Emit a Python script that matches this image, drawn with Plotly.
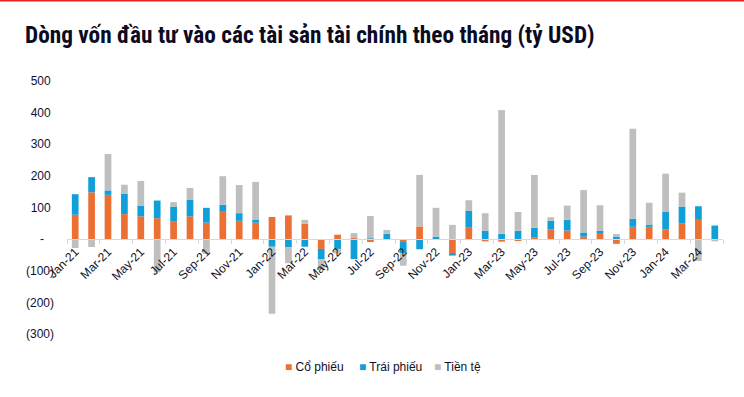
import plotly.graph_objects as go

months = ["Jan-21", "Feb-21", "Mar-21", "Apr-21", "May-21", "Jun-21", "Jul-21", "Aug-21", "Sep-21", "Oct-21", "Nov-21", "Dec-21",
          "Jan-22", "Feb-22", "Mar-22", "Apr-22", "May-22", "Jun-22", "Jul-22", "Aug-22", "Sep-22", "Oct-22", "Nov-22", "Dec-22",
          "Jan-23", "Feb-23", "Mar-23", "Apr-23", "May-23", "Jun-23", "Jul-23", "Aug-23", "Sep-23", "Oct-23", "Nov-23", "Dec-23",
          "Jan-24", "Feb-24", "Mar-24", "Apr-24"]

co_phieu = [77, 148, 140, 79, 72, 66, 57, 72, 52, 89, 58, 52,
            70, 75, 49, -31, 14, 3, -9, 0, -9, 40, 0, -44,
            36, -7, -8, -3, 6, 31, 27, 8, 20, -15, 39, 39,
            31, 49, 61, 0]

trai_phieu = [65, 48, 14, 64, 33, 56, 46, 53, 47, 20, 24, 10,
              -24, -26, -24, -33, -31, -63, 2, 17, -36, -32, 7, -8,
              53, 26, 17, 26, 30, 27, 34, 13, 6, 8, 25, 7,
              56, 54, 43, 43]

tien_te = [-28, -25, 115, 29, 79, -105, 14, 37, -47, 90, 89, 119,
           -212, -50, 12, -32, -15, 16, 71, 12, -39, 163, 92, 45,
           34, 56, 391, 60, 167, 11, 45, 134, 81, 8, 285, 69,
           120, 44, -69, -7]

series_names = ["Cổ phiếu", "Trái phiếu", "Tiền tệ"]
colors = ["#EC7033", "#109FD8", "#BFBFBF"]

y_tickvals = [500, 400, 300, 200, 100, 0, -100, -200, -300]
y_ticktext = ["500\u00a0", "400\u00a0", "300\u00a0", "200\u00a0", "100\u00a0", "-\u00a0\u00a0\u00a0",
              "(100)", "(200)", "(300)"]

title_text = "Dòng vốn đầu tư vào các tài sản tài chính theo tháng (tỷ USD)"

fig = go.Figure()
for name, vals, col in zip(series_names, [co_phieu, trai_phieu, tien_te], colors):
    fig.add_trace(go.Bar(x=months, y=vals, name=name, marker=dict(color=col, line=dict(width=0)),
                         showlegend=False))
legend_ids = ["legend", "legend2", "legend3"]
for name, col, lid in zip(series_names, colors, legend_ids):
    fig.add_trace(go.Scatter(x=[None], y=[None], mode="markers",
                             name=f"<span style='color:{col}'>■</span> {name}",
                             marker=dict(color="rgba(0,0,0,0)", size=1),
                             showlegend=True, legend=lid))

W, H = 744, 397
L, R, T, B = 67, 21, 81, 63
PW, PH = W - L - R, H - T - B

def px_to_paper_x(px):
    return (px - L) / PW

def px_to_paper_y(py):
    return (H - B - py) / PH

legend_common = dict(orientation="h", yanchor="middle", xanchor="left",
                     font=dict(size=12, color="#111122"), bgcolor="rgba(0,0,0,0)")

fig.update_layout(
    width=W, height=H,
    margin=dict(l=L, r=R, t=T, b=B),
    paper_bgcolor="white", plot_bgcolor="white",
    barmode="relative", bargap=0.59,
    font=dict(family="Liberation Sans, Arial, sans-serif", size=12, color="#111122"),
    title=dict(text=f"<span style='font-stretch:75%'><b>{title_text}</b></span>",
               x=25 / W, xanchor="left", xref="container",
               y=1 - 35 / H, yanchor="middle", yref="container",
               font=dict(family="Roboto, Liberation Sans, sans-serif", size=23.3, color="#0b0b22")),
    xaxis=dict(type="category", categoryorder="array", categoryarray=months,
               range=[-0.5, 39.5], anchor="free", position=300 / 800,
               tickmode="linear", tick0=0, dtick=2, tickson="boundaries",
               ticks="outside", ticklen=4, tickcolor="#D9D9D9", tickwidth=1,
               showline=True, linecolor="#D9D9D9", linewidth=1,
               showgrid=False, zeroline=False, tickangle=-45,
               tickfont=dict(size=12, color="#111122")),
    yaxis=dict(range=[-300, 500], tickmode="array", tickvals=y_tickvals, ticktext=y_ticktext,
               showgrid=False, zeroline=False, showline=False, ticks="",
               ticklabelstandoff=12, tickfont=dict(size=12, color="#111133")),
    legend=dict(legend_common, x=px_to_paper_x(285 - 40), y=px_to_paper_y(366)),
    legend2=dict(legend_common, x=px_to_paper_x(359 - 40), y=px_to_paper_y(366)),
    legend3=dict(legend_common, x=px_to_paper_x(434 - 40), y=px_to_paper_y(366)),
    shapes=[dict(type="line", xref="paper", yref="paper", layer="above",
                 x0=px_to_paper_x(0), x1=px_to_paper_x(W), y0=px_to_paper_y(0.75), y1=px_to_paper_y(0.75),
                 line=dict(color="#E8231B", width=1.5))],
)

fig.write_html("out.html", config={"displayModeBar": False},
               post_script="document.body.style.margin='0px';")
